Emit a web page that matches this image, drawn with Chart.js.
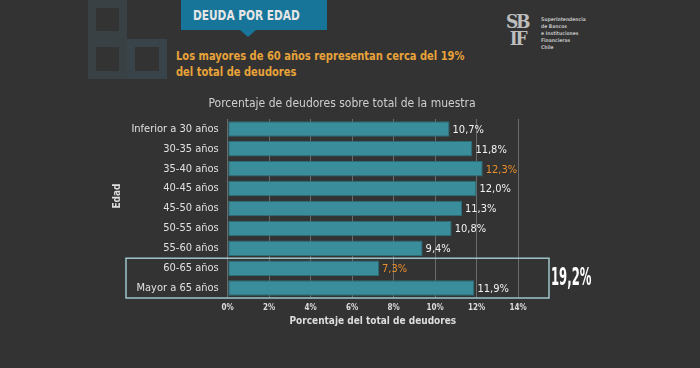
<!DOCTYPE html>
<html><head><meta charset="utf-8">
<script src="https://cdn.jsdelivr.net/npm/chart.js@4/dist/chart.umd.min.js"></script>
<style>
html,body{margin:0;padding:0;background:#333333;}
#wrap{position:relative;width:700px;height:368px;overflow:hidden;background:#333333;font-family:"DejaVu Sans Condensed","DejaVu Sans",sans-serif;}
#c{position:absolute;left:0;top:0;}
.sq{position:absolute;box-sizing:border-box;border:8px solid #3a4144;}
.sq.b{border-color:#38444a;}
#banner{position:absolute;left:181px;top:0;width:146px;height:30px;background:#17759a;}
#btxt{position:absolute;left:193px;top:0;height:30px;color:#e6e6e6;font-weight:bold;font-size:14px;line-height:30px;white-space:nowrap;transform:scaleX(0.84);transform-origin:0 0;}
#tri{position:absolute;left:240px;top:30px;width:0;height:0;border-left:8px solid transparent;border-right:8px solid transparent;border-top:7px solid #17759a;}
#sub{position:absolute;left:176px;top:48px;color:#e8a33a;font-weight:bold;font-size:13px;line-height:16px;white-space:nowrap;transform:scaleX(0.85);transform-origin:0 0;}
#logo1{position:absolute;left:506px;top:13px;font-family:"DejaVu Serif",serif;font-weight:bold;font-size:19px;color:#bdbdbd;line-height:17px;letter-spacing:-2.5px;transform:scaleX(0.9);transform-origin:0 0;}
#logo2{position:absolute;left:541px;top:16px;font-size:5px;line-height:7px;color:#bdbdbd;font-weight:bold;}
</style></head>
<body><div id="wrap">
<div class="sq" style="left:88px;top:0;width:39px;height:39px;"></div>
<div class="sq" style="left:88px;top:39px;width:39px;height:40px;"></div>
<div class="sq b" style="left:127px;top:39px;width:40px;height:40px;"></div>
<div id="banner"></div>
<div id="btxt">DEUDA POR EDAD</div>
<div id="tri"></div>
<div id="sub">Los mayores de 60 años representan cerca del 19%<br>del total de deudores</div>
<div id="logo1">SB<br>&nbsp;IF</div>
<div id="logo2">Superintendencia<br>de Bancos<br>e Instituciones<br>Financieras<br>Chile</div>
<canvas id="c" width="700" height="368"></canvas>
</div>
<script>
const categories = ["Inferior a 30 años","30-35 años","35-40 años","40-45 años","45-50 años","50-55 años","55-60 años","60-65 años","Mayor a 65 años"];
const values = [10.7, 11.8, 12.3, 12.0, 11.3, 10.8, 9.4, 7.3, 11.9];
const valueLabels = ["10,7%","11,8%","12,3%","12,0%","11,3%","10,8%","9,4%","7,3%","11,9%"];
const highlighted = [false,false,true,false,false,false,false,true,false];
const xTicks = [0,2,4,6,8,10,12,14];
const chartTitle = "Porcentaje de deudores sobre total de la muestra";
const xTitle = "Porcentaje del total de deudores";
const yTitle = "Edad";
const groupLabel = "19,2%";
const groupFrom = 7, groupTo = 8;

const FONT = '"DejaVu Sans Condensed","DejaVu Sans",sans-serif';

const overlay = {
  id:'overlay',
  afterDatasetsDraw(chart){
    const ctx = chart.ctx, x = chart.scales.x, y = chart.scales.y;
    const meta = chart.getDatasetMeta(0);
    ctx.save();
    ctx.font = '11px ' + FONT;
    ctx.textBaseline = 'middle';
    ctx.textAlign = 'left';
    meta.data.forEach((bar,i)=>{
      ctx.fillStyle = highlighted[i] ? '#e8902a' : '#f2f2f2';
      ctx.fillText(valueLabels[i], bar.x + 3, bar.y + 1);
    });
    // title
    ctx.font = '12px ' + FONT;
    ctx.fillStyle = '#cfcfcf';
    ctx.textAlign = 'center';
    ctx.fillText(chartTitle, 342, 104);
    // y title
    ctx.save();
    ctx.translate(117, 196);
    ctx.rotate(-Math.PI/2);
    ctx.font = 'bold 10px ' + FONT;
    ctx.fillStyle = '#dddddd';
    ctx.fillText(yTitle, 0, 0);
    ctx.restore();
    // group box
    const top = y.getPixelForValue(groupFrom - 0.5);
    const bot = y.getPixelForValue(groupTo + 0.5);
    ctx.strokeStyle = '#9fc6cc';
    ctx.lineWidth = 1.5;
    ctx.strokeRect(126, top, x.getPixelForValue(14) + 31 - 126, bot - top);
    ctx.fillStyle = '#ffffff';
    ctx.font = 'bold 24px ' + FONT;
    ctx.textAlign = 'left';
    ctx.translate(551, (top+bot)/2 + 1);
    ctx.scale(0.54, 1);
    ctx.fillText(groupLabel, 0, 0);
    ctx.restore();
  }
};

new Chart(document.getElementById('c'), {
  type:'bar',
  data:{
    labels: categories,
    datasets:[{
      data: values,
      backgroundColor:'#3a8e9b',
      borderColor:'#2b6d77',
      borderWidth:1,
      borderSkipped:false,
      barPercentage:0.78,
      categoryPercentage:1.0
    }]
  },
  options:{
    indexAxis:'y',
    responsive:false,
    animation:false,
    devicePixelRatio:1,
    layout:{padding:{left:107,right:182,top:119,bottom:37}},
    plugins:{legend:{display:false},tooltip:{enabled:false},title:{display:false}},
    scales:{
      x:{
        min:0,max:14,
        z:1,
        afterBuildTicks(s){ s.ticks = xTicks.map(v=>({value:v})); },
        afterFit(s){ s.height = 33; },
        grid:{color:'rgba(200,200,200,0.38)',drawTicks:false},
        border:{display:false},
        ticks:{padding:5,color:'#dddddd',font:{family:FONT,size:8,weight:'bold'},callback:v=>v+'%',maxRotation:0},
        title:{display:true,text:xTitle,color:'#dddddd',font:{family:FONT,size:10,weight:'bold'},padding:{top:4,bottom:4}}
      },
      y:{
        afterFit(s){ s.width = 120.7; },
        grid:{display:false,drawTicks:false},
        border:{display:false},
        ticks:{padding:9,color:'#e0e0e0',font:{family:FONT,size:11}},
        title:{display:false,text:yTitle}
      }
    }
  },
  plugins:[overlay]
});
</script>
</body></html>
